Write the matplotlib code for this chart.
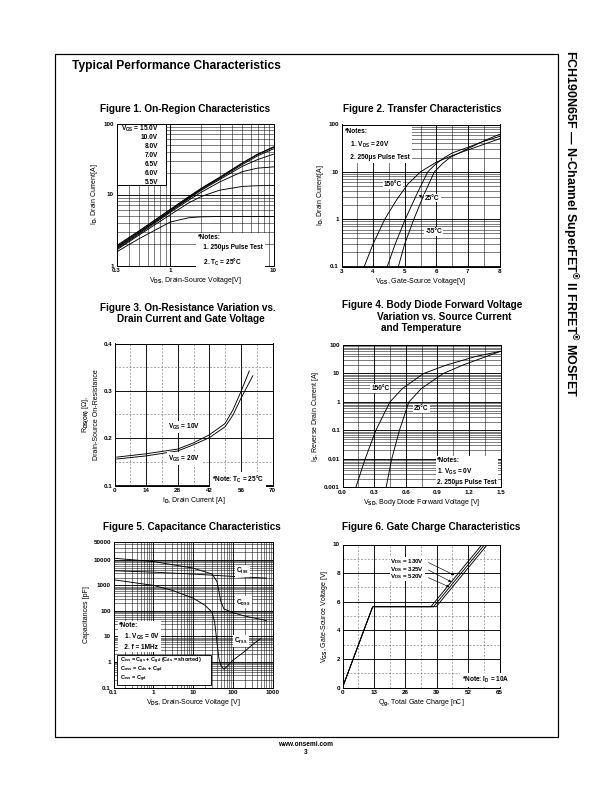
import numpy as np
import matplotlib.pyplot as plt
from matplotlib.patches import Rectangle
from matplotlib.ticker import FixedLocator, MultipleLocator, LogLocator, NullFormatter, FixedFormatter

plt.rcParams['font.family'] = ['Liberation Sans', 'DejaVu Sans']
plt.rcParams['font.weight'] = 'bold'
plt.rcParams['mathtext.fontset'] = 'custom'
plt.rcParams['mathtext.rm'] = 'Liberation Sans:bold'
plt.rcParams['mathtext.it'] = 'Liberation Sans:bold'
plt.rcParams['mathtext.bf'] = 'Liberation Sans:bold'
plt.rcParams['mathtext.default'] = 'rm'

# ---- Figure 1: on-region characteristics (VDS vs ID per VGS)
vds1 = [0.3, 0.5, 1, 1.5, 2, 3, 5, 7, 10]
id_15v = [1.9, 3.1, 6.2, 9.3, 12.3, 17.5, 28, 37, 47]
id_10v = [1.85, 3.05, 6.1, 9.1, 12.1, 17.2, 27.5, 36.5, 46]
id_8v = [1.8, 2.95, 5.9, 8.9, 11.8, 16.8, 26.5, 35, 44]
id_7v = [1.75, 2.9, 5.8, 8.7, 11.5, 16.2, 25, 31, 37]
id_65v = [1.7, 2.8, 5.6, 8.3, 10.8, 15, 21, 23.5, 24.5]
id_6v = [1.65, 2.7, 5.2, 7.6, 9.4, 11.5, 13, 13.3, 13.4]
id_55v = [1.55, 2.4, 4.1, 4.7, 4.85, 4.9, 4.9, 4.9, 4.9]
vgs_labels = ["V$_{GS}$ = 15.0V", "10.0V", "8.0V", "7.0V", "6.5V", "6.0V", "5.5V"]

# ---- Figure 2: transfer characteristics
vgs_150 = [3.72, 4.0, 4.37, 4.75, 5.1, 5.5, 6.0, 6.5, 7.0, 7.5, 8.0]
id_150 = [0.1, 0.3, 1.0, 2.6, 5.5, 10, 16, 22, 29, 38, 50]
vgs_25 = [4.45, 4.7, 5.02, 5.38, 5.73, 6.0, 6.26, 6.5, 7.0, 7.5, 8.0]
id_25 = [0.1, 0.3, 1.0, 3.35, 10, 15, 20, 25, 33, 44, 56]
vgs_m55 = [4.8, 5.0, 5.29, 5.6, 5.94, 6.2, 6.43, 6.96, 7.5, 8.0]
id_m55 = [0.1, 0.3, 1.0, 3.2, 10, 15, 20, 30, 45, 62]

# ---- Figure 3: on-resistance vs drain current
id3_10v = [1, 14, 28, 35, 42, 49, 52.5, 56, 59.7]
rds_10v = [0.160, 0.167, 0.177, 0.190, 0.207, 0.231, 0.260, 0.298, 0.342]
id3_20v = [1, 14, 28, 35, 42, 49, 52.5, 56, 61.3]
rds_20v = [0.156, 0.1625, 0.173, 0.186, 0.201, 0.224, 0.249, 0.284, 0.332]

# ---- Figure 4: body diode forward voltage
is4 = [0.001, 0.01, 0.1, 1, 3, 10, 20, 40, 60]
vsd_150 = [0.126, 0.215, 0.316, 0.45, 0.57, 0.77, 0.99, 1.27, 1.5]
vsd_25 = [0.414, 0.467, 0.54, 0.63, 0.75, 0.957, 1.146, 1.37, 1.5]

# ---- Figure 5: capacitance characteristics
coss_v = [0.1, 1, 10, 30, 40, 45, 50, 60, 100, 200, 500, 700]
coss = [11600, 8600, 4760, 2800, 1430, 580, 236, 120, 85, 63, 47, 42]
ciss_v = [0.1, 1, 10, 100, 700]
ciss = [3750, 3300, 2770, 2250, 1930]
crss_v = [0.1, 1, 3, 10, 20, 30, 35, 40, 45, 50, 60, 70, 100, 200, 300, 500]
crss = [1660, 1000, 640, 318, 166, 90, 37, 6, 1.35, 0.74, 0.52, 0.64, 1.16, 2.6, 4.5, 8.2]
cap_defs = ["C$_{iss}$ = C$_{gs}$ + C$_{gd}$ (C$_{ds}$ = shorted)",
            "C$_{oss}$ = C$_{ds}$ + C$_{gd}$",
            "C$_{rss}$ = C$_{gd}$"]

# ---- Figure 6: gate charge
vgs6 = [0, 5.65, 5.65, 10]
qg_130 = [0, 12.5, 36.6, 57.8]
qg_325 = [0, 12.5, 37.7, 58.9]
qg_520 = [0, 12.5, 38.8, 60.0]
vds6_labels = ["V$_{DS}$ = 130V", "V$_{DS}$ = 325V", "V$_{DS}$ = 520V"]

W, H = 612, 792
fig = plt.figure(figsize=(8.5, 11), dpi=72)
fs = 6.3     # tick labels
fl = 7       # axis labels
fn = 6.5     # notes


def add_ax(x0, y0, x1, y1):
    return fig.add_axes([x0 / W, 1 - y1 / H, (x1 - x0) / W, (y1 - y0) / H])


def style(ax, logx=False, logy=False):
    ax.tick_params(which='both', length=0, labelsize=fs, pad=2.5)
    for s in ax.spines.values():
        s.set_linewidth(1.0)
        s.set_zorder(5)
    ax.set_axisbelow(True)
    ax.grid(which='major', color='k', lw=0.9)
    if logx or logy:
        ax.grid(which='minor', color='k', lw=0.5)
    else:
        ax.grid(which='minor', color='0.35', lw=0.5, ls=(0, (4, 3)))


def note(ax, x, y, s, ls=1.75, pad=2, **kw):
    ax.text(x, y, s, transform=ax.transAxes, fontsize=fn, va='top', ha='left',
            linespacing=ls, zorder=6,
            bbox=dict(facecolor='white', edgecolor='none', pad=pad), **kw)


def title(x, y, s, fsz=10):
    fig.text(x / W, 1 - y / H, s, fontsize=fsz, fontweight='bold', ha='left', va='center')


# page frame and headings
fig.add_artist(Rectangle((55 / W, 1 - 737 / H), (558 - 55) / W, (737 - 54) / H,
                         transform=fig.transFigure, fill=False, lw=1.2, ec='k'))
title(72, 66, "Typical Performance Characteristics", 12)
fig.text(570 / W, 1 - 50 / H, "FCH190N65F — N-Channel SuperFET$^{®}$ II FRFET$^{®}$ MOSFET",
         rotation=270, fontsize=12.5, ha='center', va='top')
fig.text(306 / W, 1 - 745 / H, "www.onsemi.com", fontsize=6.5, ha='center', va='center')
fig.text(306 / W, 1 - 753 / H, "3", fontsize=6.5, ha='center', va='center')

lab_kw = dict(fontsize=fn, ha='center', va='center', zorder=6,
              bbox=dict(facecolor='white', edgecolor='none', pad=1))

# ---------------- Figure 1
title(100, 109, "Figure 1. On-Region Characteristics")
ax1 = add_ax(116.5, 123.5, 273.5, 265.5)
for yv in [id_15v, id_10v, id_8v, id_7v, id_65v, id_6v, id_55v]:
    ax1.plot(vds1, yv, color='k', lw=0.9)
ax1.set_xscale('log')
ax1.set_yscale('log')
ax1.set_xlim(0.3, 10)
ax1.set_ylim(1, 100)
ax1.xaxis.set_major_locator(FixedLocator([0.3, 1, 10]))
ax1.xaxis.set_major_formatter(FixedFormatter(['0.3', '1', '10']))
ax1.xaxis.set_minor_locator(LogLocator(subs=np.arange(2, 10)))
ax1.xaxis.set_minor_formatter(NullFormatter())
ax1.yaxis.set_major_locator(FixedLocator([1, 10, 100]))
ax1.yaxis.set_major_formatter(FixedFormatter(['1', '10', '100']))
ax1.yaxis.set_minor_formatter(NullFormatter())
style(ax1, True, True)
ax1.set_xlabel("V$_{DS}$, Drain-Source Voltage[V]", fontsize=fl, labelpad=2)
ax1.set_ylabel("I$_D$, Drain Current[A]", fontsize=fl, labelpad=3)
ax1.add_patch(Rectangle((0, 0.57), 0.315, 0.43, transform=ax1.transAxes,
                        fc='white', ec='k', lw=1.0, zorder=4))
for i, lab in enumerate(vgs_labels):
    ax1.text(0.265, 0.96 - i * 0.062, lab, transform=ax1.transAxes, fontsize=fn,
             ha='right', va='center', zorder=6)
note(ax1, 0.52, 0.225, "*Notes:\n   1. 250μs Pulse Test\n   2. T$_C$ = 25°C")

# ---------------- Figure 2
title(343, 109, "Figure 2. Transfer Characteristics")
ax2 = add_ax(341.5, 124.5, 499.5, 266.5)
for xv, yv in [(vgs_150, id_150), (vgs_25, id_25), (vgs_m55, id_m55)]:
    ax2.plot(xv, yv, color='k', lw=0.9)
ax2.set_yscale('log')
ax2.set_xlim(3, 8)
ax2.set_ylim(0.1, 100)
ax2.xaxis.set_major_locator(MultipleLocator(1))
ax2.xaxis.set_minor_locator(MultipleLocator(0.5))
ax2.yaxis.set_major_locator(FixedLocator([0.1, 1, 10, 100]))
ax2.yaxis.set_major_formatter(FixedFormatter(['0.1', '1', '10', '100']))
ax2.yaxis.set_minor_formatter(NullFormatter())
style(ax2, False, True)
ax2.grid(which='minor', axis='x', color='k', lw=0.5, ls='-')
ax2.set_xlabel("V$_{GS}$, Gate-Source Voltage[V]", fontsize=fl, labelpad=2)
ax2.set_ylabel("I$_D$, Drain Current[A]", fontsize=fl, labelpad=3)
note(ax2, 0.025, 0.975, "*Notes:\n   1. V$_{DS}$ = 20V\n   2. 250μs Pulse Test")
ax2.text(4.62, 5.5, "150°C", **lab_kw)
ax2.text(5.88, 2.8, "25°C", **lab_kw)
ax2.text(5.92, 0.55, "-55°C", **lab_kw)
ax2.annotate("", xy=(5.38, 3.35), xytext=(5.62, 2.85),
             arrowprops=dict(arrowstyle='-|>', color='k', lw=0.6, mutation_scale=5))

# ---------------- Figure 3
title(100, 308, "Figure 3. On-Resistance Variation vs.")
title(117, 319, "Drain Current and Gate Voltage")
ax3 = add_ax(114.5, 343.5, 272.5, 485.5)
ax3.plot(id3_10v, rds_10v, color='k', lw=0.9)
ax3.plot(id3_20v, rds_20v, color='k', lw=0.9)
ax3.set_xlim(0, 70)
ax3.set_ylim(0.1, 0.4)
ax3.xaxis.set_major_locator(MultipleLocator(14))
ax3.xaxis.set_minor_locator(MultipleLocator(7))
ax3.yaxis.set_major_locator(FixedLocator([0.1, 0.2, 0.3, 0.4]))
ax3.yaxis.set_major_formatter(FixedFormatter(['0.1', '0.2', '0.3', '0.4']))
ax3.yaxis.set_minor_locator(MultipleLocator(0.05))
style(ax3)
ax3.set_xlabel("I$_D$, Drain Current [A]", fontsize=fl, labelpad=2)
ax3.set_ylabel("R$_{DS(ON)}$ [Ω],\nDrain-Source On-Resistance", fontsize=fl, labelpad=3,
               linespacing=1.5)
ax3.text(31, 0.224, "V$_{GS}$ = 10V", **lab_kw)
ax3.text(31, 0.157, "V$_{GS}$ = 20V", **lab_kw)
note(ax3, 0.615, 0.08, "*Note: T$_C$ = 25°C")

# ---------------- Figure 4
title(342, 305, "Figure 4. Body Diode Forward Voltage")
title(377, 316.5, "Variation vs. Source Current")
title(381, 328, "and Temperature")
ax4 = add_ax(342.5, 345, 500.5, 487.5)
ax4.plot(vsd_150, is4, color='k', lw=0.9)
ax4.plot(vsd_25, is4, color='k', lw=0.9)
ax4.set_yscale('log')
ax4.set_xlim(0, 1.5)
ax4.set_ylim(0.001, 100)
ax4.xaxis.set_major_locator(FixedLocator([0, 0.3, 0.6, 0.9, 1.2, 1.5]))
ax4.xaxis.set_major_formatter(FixedFormatter(['0.0', '0.3', '0.6', '0.9', '1.2', '1.5']))
ax4.xaxis.set_minor_locator(FixedLocator([0.15, 0.45, 0.75, 1.05, 1.35]))
ax4.yaxis.set_major_locator(FixedLocator([0.001, 0.01, 0.1, 1, 10, 100]))
ax4.yaxis.set_major_formatter(FixedFormatter(['0.001', '0.01', '0.1', '1', '10', '100']))
ax4.yaxis.set_minor_formatter(NullFormatter())
style(ax4, False, True)
ax4.grid(which='minor', axis='x', color='k', lw=0.5, ls='-')
ax4.set_xlabel("V$_{SD}$, Body Diode Forward Voltage [V]", fontsize=fl, labelpad=2)
ax4.set_ylabel("I$_S$, Reverse Drain Current [A]", fontsize=fl, labelpad=3)
ax4.text(0.36, 3.0, "150°C", **lab_kw)
ax4.text(0.75, 0.6, "25°C", **lab_kw)
note(ax4, 0.6, 0.215, "*Notes:\n1. V$_{GS}$ = 0V\n2. 250μs Pulse Test", ls=1.4, pad=1.2)

# ---------------- Figure 5
title(103, 527, "Figure 5. Capacitance Characteristics")
ax5 = add_ax(113.5, 542, 272.5, 687.5)
ax5.plot(coss_v, coss, color='k', lw=0.9)
ax5.plot(ciss_v, ciss, color='k', lw=0.9)
ax5.plot(crss_v, crss, color='k', lw=0.9)
ax5.set_xscale('log')
ax5.set_yscale('log')
ax5.set_xlim(0.1, 1000)
ax5.set_ylim(0.1, 50000)
ax5.xaxis.set_major_locator(FixedLocator([0.1, 1, 10, 100, 1000]))
ax5.xaxis.set_major_formatter(FixedFormatter(['0.1', '1', '10', '100', '1000']))
ax5.xaxis.set_minor_formatter(NullFormatter())
ax5.yaxis.set_major_locator(FixedLocator([0.1, 1, 10, 100, 1000, 10000, 50000]))
ax5.yaxis.set_major_formatter(FixedFormatter(['0.1', '1', '10', '100', '1000', '10000', '50000']))
ax5.yaxis.set_minor_formatter(NullFormatter())
style(ax5, True, True)
ax5.set_xlabel("V$_{DS}$, Drain-Source Voltage [V]", fontsize=fl, labelpad=2)
ax5.set_ylabel("Capacitances [pF]", fontsize=fl, labelpad=3)
ax5.text(180, 3750, "C$_{iss}$", **lab_kw)
ax5.text(185, 215, "C$_{oss}$", **lab_kw)
ax5.text(160, 6.4, "C$_{rss}$", **lab_kw)
note(ax5, 0.035, 0.45, "*Note:\n   1. V$_{GS}$ = 0V\n   2. f = 1MHz", ls=1.4, pad=1.2)
ax5.add_patch(Rectangle((0.025, 0.018), 0.59, 0.207, transform=ax5.transAxes,
                        fc='white', ec='k', lw=0.9, zorder=6))
for i, s in enumerate(cap_defs):
    ax5.text(0.04, 0.184 - i * 0.064, s, transform=ax5.transAxes, fontsize=5.5,
             ha='left', va='center', zorder=7)

# ---------------- Figure 6
title(342, 527, "Figure 6. Gate Charge Characteristics")
ax6 = add_ax(342.5, 544.5, 499.5, 687.5)
ax6.plot(qg_130, vgs6, color='k', lw=0.9)
ax6.plot(qg_325, vgs6, color='k', lw=0.9)
ax6.plot(qg_520, vgs6, color='k', lw=0.9)
ax6.set_xlim(0, 65)
ax6.set_ylim(0, 10)
ax6.xaxis.set_major_locator(MultipleLocator(13))
ax6.xaxis.set_minor_locator(MultipleLocator(6.5))
ax6.yaxis.set_major_locator(MultipleLocator(2))
ax6.yaxis.set_minor_locator(MultipleLocator(1))
style(ax6)
ax6.set_xlabel("Q$_g$, Total Gate Charge [nC]", fontsize=fl, labelpad=2)
ax6.set_ylabel("V$_{GS}$, Gate-Source Voltage [V]", fontsize=fl, labelpad=3)
arr = dict(arrowstyle='-|>', color='k', lw=0.6, mutation_scale=5)
for lab, ly, tx, ty in zip(vds6_labels, [8.8, 8.28, 7.74], [47.0, 45.8, 45.0], [7.8, 7.32, 6.97]):
    ax6.text(34, ly, lab, fontsize=6.2, ha='right', va='center', zorder=6,
             bbox=dict(facecolor='white', edgecolor='none', pad=0.2))
    ax6.annotate("", xy=(tx, ty), xytext=(34.8, ly), arrowprops=arr, zorder=6)
note(ax6, 0.76, 0.09, "*Note: I$_D$ = 10A")

fig.savefig("out.png", dpi=72)
